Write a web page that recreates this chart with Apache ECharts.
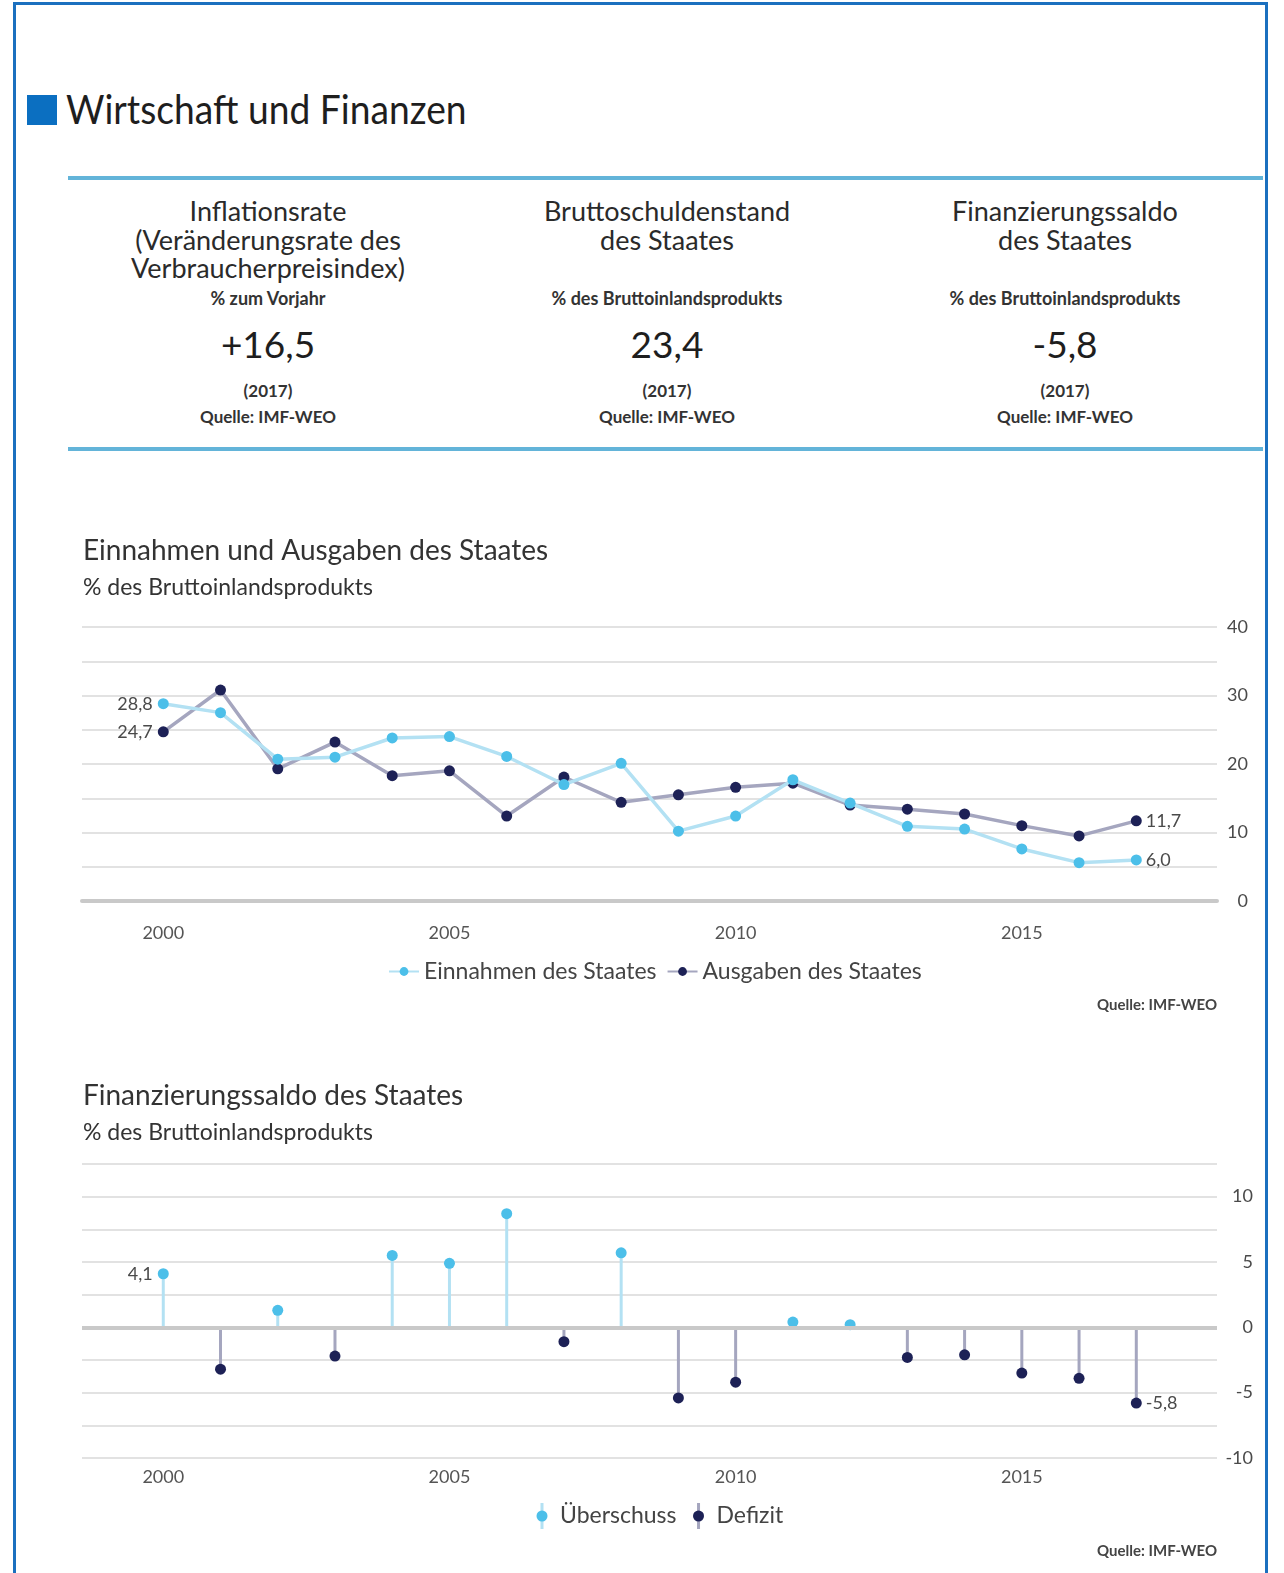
<!DOCTYPE html>
<html>
<head>
<meta charset="utf-8">
<title>Wirtschaft und Finanzen</title>
<script src="https://cdn.jsdelivr.net/npm/echarts@6/dist/echarts.min.js"></script>
<style>
  html, body { margin: 0; padding: 0; background: #fff; }
  body { width: 1284px; height: 1573px; position: relative; overflow: hidden;
         font-family: Lato, "Open Sans", sans-serif; color: #2d2d2d; }
  #frame { position: absolute; left: 13px; top: 2px; width: 1255px; height: 1640px;
           border: 3px solid #1b70bf; box-sizing: border-box; }
  #square { position: absolute; left: 27px; top: 95px; width: 30px; height: 30px; background: #0b6fc1; }
  #head { position: absolute; left: 66px; top: 85px; margin: 0; font-weight: normal;
          font-size: 40px; line-height: 48px; color: #1e1e1e; white-space: nowrap;
          transform-origin: left center; transform: scaleX(0.93); }
  .rule { position: absolute; left: 68px; width: 1195px; height: 4px; background: #63b4d9; }
  .panel { position: absolute; top: 0; width: 400px; height: 460px; text-align: center; }
  .panel div { position: absolute; left: 0; right: 0; white-space: nowrap; }
  .t { top: 197px; font-size: 27px; line-height: 28.5px; color: #2a2a2a; }
  .s { top: 288px; font-size: 18px; line-height: 20px; font-weight: bold; color: #333; }
  .n { top: 322px; font-size: 37px; line-height: 44px; color: #1e1e1e; }
  .y { top: 381px; font-size: 17px; line-height: 20px; font-weight: bold; color: #333; }
  .q { top: 407px; font-size: 17px; line-height: 20px; font-weight: bold; color: #333; }
  #chart { position: absolute; left: 0; top: 0; width: 1284px; height: 1573px; }
</style>
</head>
<body>
<div id="frame"></div>
<div id="square"></div>
<h1 id="head">Wirtschaft und Finanzen</h1>
<div class="rule" style="top:176px"></div>
<div class="rule" style="top:447px"></div>

<div class="panel" style="left:68px">
  <div class="t">Inflationsrate<br>(Veränderungsrate des<br>Verbraucherpreisindex)</div>
  <div class="s">% zum Vorjahr</div>
  <div class="n">+16,5</div>
  <div class="y">(2017)</div>
  <div class="q">Quelle: IMF-WEO</div>
</div>
<div class="panel" style="left:467px">
  <div class="t">Bruttoschuldenstand<br>des Staates</div>
  <div class="s">% des Bruttoinlandsprodukts</div>
  <div class="n">23,4</div>
  <div class="y">(2017)</div>
  <div class="q">Quelle: IMF-WEO</div>
</div>
<div class="panel" style="left:865px">
  <div class="t">Finanzierungssaldo<br>des Staates</div>
  <div class="s">% des Bruttoinlandsprodukts</div>
  <div class="n">-5,8</div>
  <div class="y">(2017)</div>
  <div class="q">Quelle: IMF-WEO</div>
</div>

<div id="chart"></div>

<script>
// Jahre und Werte (% des BIP)
const years = [2000, 2001, 2002, 2003, 2004, 2005, 2006, 2007, 2008,
               2009, 2010, 2011, 2012, 2013, 2014, 2015, 2016, 2017];
const einnahmen = [28.8, 27.5, 20.7, 21.0, 23.8, 24.0, 21.1, 17.0, 20.1,
                   10.2, 12.4, 17.7, 14.3, 10.9, 10.5, 7.6, 5.6, 6.0];
const ausgaben  = [24.7, 30.8, 19.3, 23.2, 18.3, 19.0, 12.4, 18.1, 14.4,
                   15.5, 16.6, 17.2, 14.0, 13.4, 12.7, 11.0, 9.5, 11.7];
const saldo     = [4.1, -3.2, 1.3, -2.2, 5.5, 4.9, 8.7, -1.1, 5.7,
                   -5.4, -4.2, 0.4, 0.2, -2.3, -2.1, -3.5, -3.9, -5.8];
const yearTicks = [2000, 2005, 2010, 2015];
const seriesNames1 = ['Einnahmen des Staates', 'Ausgaben des Staates'];
const seriesNames2 = ['Überschuss', 'Defizit'];

const FONT = 'Lato';
const LIGHT = '#4cbfe9', LIGHT_LINE = '#b3e1f3';
const DARK = '#1d2156', DARK_LINE = '#a5a6bf';
const fmt = v => v.toFixed(1).replace('.', ',');

// Legendensymbol: senkrechter Stiel mit Punkt
function lollipopIcon(stem, dot) {
  const svg = '<svg xmlns="http://www.w3.org/2000/svg" width="12" height="26" viewBox="0 0 12 26">' +
    '<rect x="4.5" y="0" width="3" height="26" fill="' + stem + '"/>' +
    '<circle cx="6" cy="13" r="5.5" fill="' + dot + '"/></svg>';
  return 'image://data:image/svg+xml;charset=utf-8,' + encodeURIComponent(svg);
}

// Beschriftung nur am ersten und letzten Jahr
function endLabel(i, n) {
  if (i === 0) return { show: true, position: 'left', distance: 5 };
  if (i === n - 1) return { show: true, position: 'right', distance: 4 };
  return { show: false };
}
function pointsWithLabels(vals) {
  return years.map((y, i) => ({ value: [y, vals[i]], label: endLabel(i, years.length) }));
}
const valueLabel = {
  formatter: p => fmt(p.value[1]),
  fontFamily: FONT, fontSize: 18, color: '#4a4a4a'
};

const xAxisBase = {
  type: 'value', min: 1998.58, max: 2018.41,
  splitLine: { show: false }, axisTick: { show: false },
  axisLabel: { customValues: yearTicks, fontFamily: FONT, fontSize: 18, color: '#555', formatter: v => String(v) }
};

const chart = echarts.init(document.getElementById('chart'));
chart.setOption({
  animation: false,
  textStyle: { fontFamily: FONT },
  title: [
    { text: 'Einnahmen und Ausgaben des Staates', left: 83, top: 537, padding: 0,
      textStyle: { fontFamily: FONT, fontSize: 28, fontWeight: 'normal', color: '#333' } },
    { text: '% des Bruttoinlandsprodukts', left: 83, top: 576, padding: 0,
      textStyle: { fontFamily: FONT, fontSize: 23, fontWeight: 'normal', color: '#333' } },
    { text: 'Quelle: IMF-WEO', right: 67, top: 998, padding: 0,
      textStyle: { fontFamily: FONT, fontSize: 15, fontWeight: 'bold', color: '#444' } },
    { text: 'Finanzierungssaldo des Staates', left: 83, top: 1082, padding: 0,
      textStyle: { fontFamily: FONT, fontSize: 28, fontWeight: 'normal', color: '#333' } },
    { text: '% des Bruttoinlandsprodukts', left: 83, top: 1121, padding: 0,
      textStyle: { fontFamily: FONT, fontSize: 23, fontWeight: 'normal', color: '#333' } },
    { text: 'Quelle: IMF-WEO', right: 67, top: 1544, padding: 0,
      textStyle: { fontFamily: FONT, fontSize: 15, fontWeight: 'bold', color: '#444' } }
  ],
  legend: [
    { data: seriesNames1, left: 383, top: 955, itemWidth: 30, itemHeight: 11, itemGap: 10,
      textStyle: { fontFamily: FONT, fontSize: 23, color: '#444' } },
    { data: [
        { name: seriesNames2[0], icon: lollipopIcon(LIGHT_LINE, LIGHT) },
        { name: seriesNames2[1], icon: lollipopIcon(DARK_LINE, DARK) }
      ],
      left: 524, top: 1498, itemWidth: 26, itemHeight: 26, itemGap: 9, symbolKeepAspect: true,
      textStyle: { fontFamily: FONT, fontSize: 23, color: '#444' } }
  ],
  grid: [
    { left: 82, right: 67, top: 627, bottom: 672 },
    { left: 82, right: 67, top: 1164, bottom: 115 }
  ],
  xAxis: [
    Object.assign({}, xAxisBase, { gridIndex: 0,
      axisLine: { show: true, lineStyle: { color: '#c9c9c9', width: 4 } },
      axisLabel: Object.assign({}, xAxisBase.axisLabel, { margin: 23 }) }),
    Object.assign({}, xAxisBase, { gridIndex: 1,
      axisLine: { show: false },
      axisLabel: Object.assign({}, xAxisBase.axisLabel, { margin: 10 }) })
  ],
  yAxis: [
    { type: 'value', gridIndex: 0, position: 'right', min: 0, max: 40, interval: 5,
      axisLine: { show: false }, axisTick: { show: false },
      splitLine: { lineStyle: { color: '#d8d8d8', width: 1.5 } },
      axisLabel: { align: 'right', margin: 31, fontFamily: FONT, fontSize: 18, color: '#4a4a4a',
                   formatter: v => (v % 10 === 0 ? String(v) : '') } },
    { type: 'value', gridIndex: 1, position: 'right', min: -10, max: 12.5, interval: 2.5,
      axisLine: { show: false }, axisTick: { show: false },
      splitLine: { lineStyle: { color: '#d8d8d8', width: 1.5 } },
      axisLabel: { align: 'right', margin: 36, fontFamily: FONT, fontSize: 18, color: '#4a4a4a',
                   formatter: v => (v % 5 === 0 ? String(v) : '') } }
  ],
  series: [
    // Ausgaben unter den Einnahmen zeichnen
    { type: 'line', name: seriesNames1[1], xAxisIndex: 0, yAxisIndex: 0,
      data: pointsWithLabels(ausgaben), symbol: 'circle', symbolSize: 11,
      lineStyle: { color: DARK_LINE, width: 3.5 }, itemStyle: { color: DARK },
      label: valueLabel, z: 2 },
    { type: 'line', name: seriesNames1[0], xAxisIndex: 0, yAxisIndex: 0,
      data: pointsWithLabels(einnahmen), symbol: 'circle', symbolSize: 11,
      lineStyle: { color: LIGHT_LINE, width: 3.5 }, itemStyle: { color: LIGHT },
      label: valueLabel, z: 3 },

    // Stiele der Lollipops ab der Nulllinie
    { type: 'custom', name: 'Saldo', xAxisIndex: 1, yAxisIndex: 1, silent: true, z: 2,
      data: years.map((y, i) => [y, saldo[i]]),
      encode: { x: 0, y: 1 },
      renderItem: (params, api) => {
        const x = api.value(0), v = api.value(1);
        const p0 = api.coord([x, 0]), p1 = api.coord([x, v]);
        return { type: 'line', shape: { x1: p0[0], y1: p0[1], x2: p1[0], y2: p1[1] },
                 style: { stroke: v >= 0 ? LIGHT_LINE : DARK_LINE, lineWidth: 3 } };
      },
      markLine: { silent: true, symbol: 'none', label: { show: false },
                  lineStyle: { color: '#c9c9c9', width: 4, type: 'solid' },
                  data: [{ yAxis: 0 }] } },
    { type: 'scatter', name: seriesNames2[0], xAxisIndex: 1, yAxisIndex: 1, z: 4,
      symbolSize: 11, itemStyle: { color: LIGHT, opacity: 1 }, label: valueLabel,
      data: years.map((y, i) => ({ value: [y, saldo[i]], label: endLabel(i, years.length) }))
                 .filter(d => d.value[1] > 0) },
    { type: 'scatter', name: seriesNames2[1], xAxisIndex: 1, yAxisIndex: 1, z: 4,
      symbolSize: 11, itemStyle: { color: DARK, opacity: 1 }, label: valueLabel,
      data: years.map((y, i) => ({ value: [y, saldo[i]], label: endLabel(i, years.length) }))
                 .filter(d => d.value[1] < 0) }
  ]
});
</script>
</body>
</html>
